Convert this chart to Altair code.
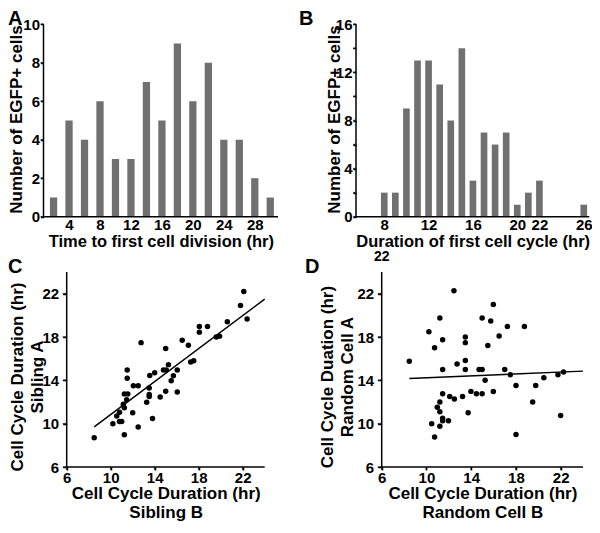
import altair as alt
import pandas as pd

FONT = "Liberation Sans"

# ---- Panel A: time to first cell division histogram ----
a_hours = [2, 4, 6, 8, 10, 12, 14, 16, 18, 20, 22, 24, 26, 28, 30]
a_counts = [1, 5, 4, 6, 3, 3, 7, 5, 9, 6, 8, 4, 4, 2, 1]
a_ticks = [4, 8, 12, 16, 20, 24, 28]
a_yticks = [0, 2, 4, 6, 8, 10]

# ---- Panel B: duration of first cell cycle histogram ----
b_hours = [8, 9, 10, 11, 12, 13, 14, 15, 16, 17, 18, 19, 20, 21, 22, 26]
b_counts = [2, 2, 9, 13, 13, 11, 8, 14, 3, 7, 6, 7, 1, 2, 3, 1]
b_ticks = [8, 12, 16, 20, 22, 26]
b_yticks = [0, 2, 4, 6, 8, 10, 12, 14, 16]

# ---- Panel C: sibling A vs sibling B ----
c_sibling_b = [8.5, 10.2, 10.55, 10.8, 10.8, 11.0, 11.24, 11.24, 11.15, 11.24,
               11.55, 11.45, 11.5, 11.5, 12.0, 12.06, 12.5, 12.5, 12.76, 13.27,
               13.5, 13.5, 13.5, 13.55, 13.8, 14.0, 14.5, 14.8, 15.05, 15.0,
               15.0, 15.25, 15.5, 15.7, 16.05, 16.05, 16.5, 17.06, 17.27, 17.55,
               18.06, 18.06, 18.8, 19.6, 19.9, 20.6, 21.8, 22.1, 22.4]
c_sibling_a = [8.7, 10.0, 10.7, 11.05, 10.2, 10.2, 8.98, 11.46, 11.8, 12.75,
               12.75, 12.2, 14.2, 14.96, 11.0, 13.5, 13.5, 9.7, 17.48, 11.98,
               13.29, 12.7, 12.5, 14.45, 10.48, 14.7, 12.47, 14.96, 14.96, 16.93,
               13.0, 15.45, 13.97, 14.42, 14.96, 12.92, 17.7, 17.23, 15.7, 15.8,
               18.96, 18.45, 18.96, 17.99, 18.08, 19.4, 20.9, 22.2, 19.66]
c_fit_x = [8.5, 24.0]
c_fit_y = [9.7, 21.5]

# ---- Panel D: random cell A vs random cell B ----
d_random_b = [8.47, 10.22, 10.47, 10.73, 10.73, 10.97, 11.2, 11.2, 11.2, 11.2,
              11.45, 11.45, 11.45, 11.45, 11.45, 11.97, 12.08, 12.46, 12.5, 12.74,
              13.23, 13.48, 13.48, 13.48, 13.48, 13.73, 13.98, 14.47, 14.71, 14.98,
              14.98, 14.98, 15.25, 15.49, 15.75, 15.98, 15.98, 16.5, 17.0, 17.24,
              17.5, 18.01, 18.01, 18.76, 19.5, 19.77, 20.5, 21.76, 22.0, 22.26]
d_random_a = [15.76, 18.48, 10.0, 17.0, 8.76, 11.52, 19.76, 12.0, 11.1, 9.76,
              17.74, 15.0, 12.76, 10.5, 10.27, 10.27, 12.5, 22.26, 12.27, 15.5,
              12.5, 18.0, 17.48, 15.84, 15.0, 11.0, 12.98, 12.76, 15.0, 15.0,
              19.75, 12.76, 14.0, 17.22, 19.48, 21.0, 12.96, 18.1, 15.0, 18.97,
              14.52, 13.52, 9.0, 18.97, 12.0, 13.52, 14.24, 14.52, 10.76, 14.76]
d_fit_x = [8.47, 24.0]
d_fit_y = [14.18, 14.85]
d_stray_x = [6]
d_stray_y = [25.4]
d_stray_text = ["22"]

scatter_ticks = [6, 10, 14, 18, 22]
letters = ["A", "B", "C", "D"]

# ---- layout (pixels inside the single drawing area) ----
W, H = 584, 513
BAR = "#707070"

# plot-area boxes of the four panels: (x0, x1, y_bottom, y_top)
BOX_A = (35.5, 270.0, 208.7, 16.3)
BOX_B = (348.0, 581.3, 208.7, 16.3)
BOX_C = (58.7, 256.7, 459.0, 264.0)
BOX_D = (373.7, 575.0, 459.0, 264.0)
LETTER_POS = [(0, 0.5), (291, 0.5), (0, 248.5), (297, 248.5)]


def xscale(domain, box):
    return alt.Scale(domain=domain, range=[box[0], box[1]], nice=False, zero=False)


def yscale(domain, box):
    return alt.Scale(domain=domain, range=[box[2], box[3]], nice=False, zero=False)


def xaxis(values, title, box, **kw):
    return alt.Axis(orient="bottom", offset=box[2] - H, values=values, title=title, **kw)


def yaxis(values, title, box, shift, **kw):
    return alt.Axis(orient="left", offset=-box[0], values=values, title=title,
                    titleY=(box[2] + box[3]) / 2 + shift, **kw)


def y_ticks(values, domain, box, length):
    """Tick marks on the left edge of a panel, placed through a y scale like the panel's."""
    return alt.Chart(pd.DataFrame({"v": values})).mark_tick(
        color="black", size=length, thickness=1.5
    ).encode(y=alt.Y("v:Q", scale=yscale(domain, box), axis=None),
             x=alt.value(box[0] - length / 2))


def x_ticks(values, domain, box, length):
    """Tick marks under the bottom edge of a panel, placed through an x scale like the panel's."""
    return alt.Chart(pd.DataFrame({"v": values})).mark_tick(
        color="black", size=length, thickness=1.5
    ).encode(x=alt.X("v:Q", scale=xscale(domain, box), axis=None),
             y=alt.value(box[2] + length / 2))


# Panel A
a_df = pd.DataFrame({"hour": a_hours, "count": a_counts})
layer_a = alt.Chart(a_df).transform_calculate(
    lo="datum.hour - 0.47", hi="datum.hour + 0.47"
).mark_bar(color=BAR).encode(
    x=alt.X("lo:Q", scale=xscale([0.7, 31], BOX_A),
            axis=xaxis(a_ticks, "Time to first cell division (hr)", BOX_A,
                       ticks=False, labelPadding=1, titlePadding=1, titleFontSize=16.5)),
    x2="hi:Q",
    y=alt.Y("count:Q", scale=yscale([0, 10], BOX_A),
            axis=yaxis(a_yticks, "Number of EGFP+ cells", BOX_A, -1.5,
                       tickSize=3, labelPadding=1, titlePadding=-3, titleFontSize=17)),
    y2=alt.datum(0),
)

# Panel B
b_df = pd.DataFrame({"hour": b_hours, "count": b_counts})
layer_b = alt.Chart(b_df).transform_calculate(
    lo="datum.hour - 0.3", hi="datum.hour + 0.3"
).mark_bar(color=BAR).encode(
    x=alt.X("lo:Q", scale=xscale([5.45, 26.5], BOX_B),
            axis=xaxis(b_ticks, "Duration of first cell cycle (hr)", BOX_B,
                       ticks=False, labelPadding=1, titlePadding=1, titleFontSize=16.5)),
    x2="hi:Q",
    y=alt.Y("count:Q", scale=yscale([0, 16], BOX_B),
            axis=yaxis(b_yticks, "Number of EGFP+ cells", BOX_B, -1.5,
                       labelExpr="datum.value % 4 == 0 ? datum.label : ''",
                       tickSize=3, labelPadding=1, titlePadding=-8, titleFontSize=17)),
    y2=alt.datum(0),
)


def scatter_layer(xs, ys, fx, fy, xtitle, ytitle, ytp, box, extra=None):
    pts = pd.DataFrame({"x": xs, "y": ys})
    fit = pd.DataFrame({"x": fx, "y": fy})
    xs_ = xscale([6, 24], box)
    ys_ = yscale([6, 24], box)
    xax = xaxis(scatter_ticks, xtitle, box, tickSize=3, labelPadding=0,
                titlePadding=0, titleFontSize=17, titleLineHeight=19)
    yax = yaxis(scatter_ticks, ytitle, box, 7, tickSize=4, labelPadding=4,
                titlePadding=ytp, titleFontSize=17, titleLineHeight=20)
    p = alt.Chart(pts).mark_circle(size=30, color="black", opacity=1).encode(
        x=alt.X("x:Q", scale=xs_, axis=xax), y=alt.Y("y:Q", scale=ys_, axis=yax))
    l = alt.Chart(fit).mark_line(color="black", strokeWidth=1.5).encode(
        x=alt.X("x:Q", scale=xs_), y=alt.Y("y:Q", scale=ys_))
    layers = [p, l]
    if extra is not None:
        layers.append(extra)
    return alt.layer(*layers)


layer_c = scatter_layer(c_sibling_b, c_sibling_a, c_fit_x, c_fit_y,
                        ["Cell Cycle Duration (hr)", "Sibling B"],
                        ["Cell Cycle Duration (hr)", "Sibling A"], -4, BOX_C)

stray = alt.Chart(pd.DataFrame({"x": d_stray_x, "y": d_stray_y, "t": d_stray_text})).mark_text(
    font=FONT, fontWeight="bold", fontSize=14, color="black", align="center", baseline="middle"
).encode(x="x:Q", y="y:Q", text="t:N")

layer_d = scatter_layer(d_random_b, d_random_a, d_fit_x, d_fit_y,
                        ["Cell Cycle Duration (hr)", "Random Cell B"],
                        ["Cell Cycle Duation (hr)", "Random Cell A"], 1, BOX_D, extra=stray)

# tick marks (each layer has its own, identical, scale)
tick_layers = [
    y_ticks(a_yticks, [0, 10], BOX_A, 3),
    y_ticks(b_yticks, [0, 16], BOX_B, 3),
    y_ticks(scatter_ticks, [6, 24], BOX_C, 4),
    x_ticks(scatter_ticks, [6, 24], BOX_C, 3),
    y_ticks(scatter_ticks, [6, 24], BOX_D, 4),
    x_ticks(scatter_ticks, [6, 24], BOX_D, 3),
]

# axis lines of each panel, drawn as thin filled rectangles
ONE = pd.DataFrame({"k": [0]})
axis_lines = []
for box in (BOX_A, BOX_B, BOX_C, BOX_D):
    x0, x1, yb, yt = box
    axis_lines.append(alt.Chart(ONE).mark_rect(color="black").encode(
        x=alt.value(x0 - 0.75), x2=alt.value(x0 + 0.75), y=alt.value(yt), y2=alt.value(yb + 0.75)))
    axis_lines.append(alt.Chart(ONE).mark_rect(color="black").encode(
        x=alt.value(x0 - 0.75), x2=alt.value(x1), y=alt.value(yb - 0.75), y2=alt.value(yb + 0.75)))

# panel letters
letter_layers = []
for txt, (lx, ly) in zip(letters, LETTER_POS):
    letter_layers.append(alt.Chart(pd.DataFrame({"t": [txt]})).mark_text(
        font=FONT, fontWeight="bold", fontSize=20, color="black",
        align="left", baseline="top"
    ).encode(text="t:N", x=alt.value(lx), y=alt.value(ly)))

chart = alt.layer(
    layer_a, layer_b, layer_c, layer_d, *tick_layers, *axis_lines, *letter_layers
).resolve_scale(
    x="independent", y="independent"
).properties(
    width=W, height=H, padding=0, autosize=alt.AutoSizeParams(type="none")
).configure_view(
    stroke=None
).configure_axis(
    domain=False, labelFont=FONT, titleFont=FONT, labelFontWeight="bold",
    titleFontWeight="bold", labelFontSize=15, labelColor="black", titleColor="black",
    tickColor="black", tickWidth=1.5, grid=False, labelFlush=False, labelOverlap=False
)

chart.save("out.html", embed_options={"renderer": "svg", "actions": False})
